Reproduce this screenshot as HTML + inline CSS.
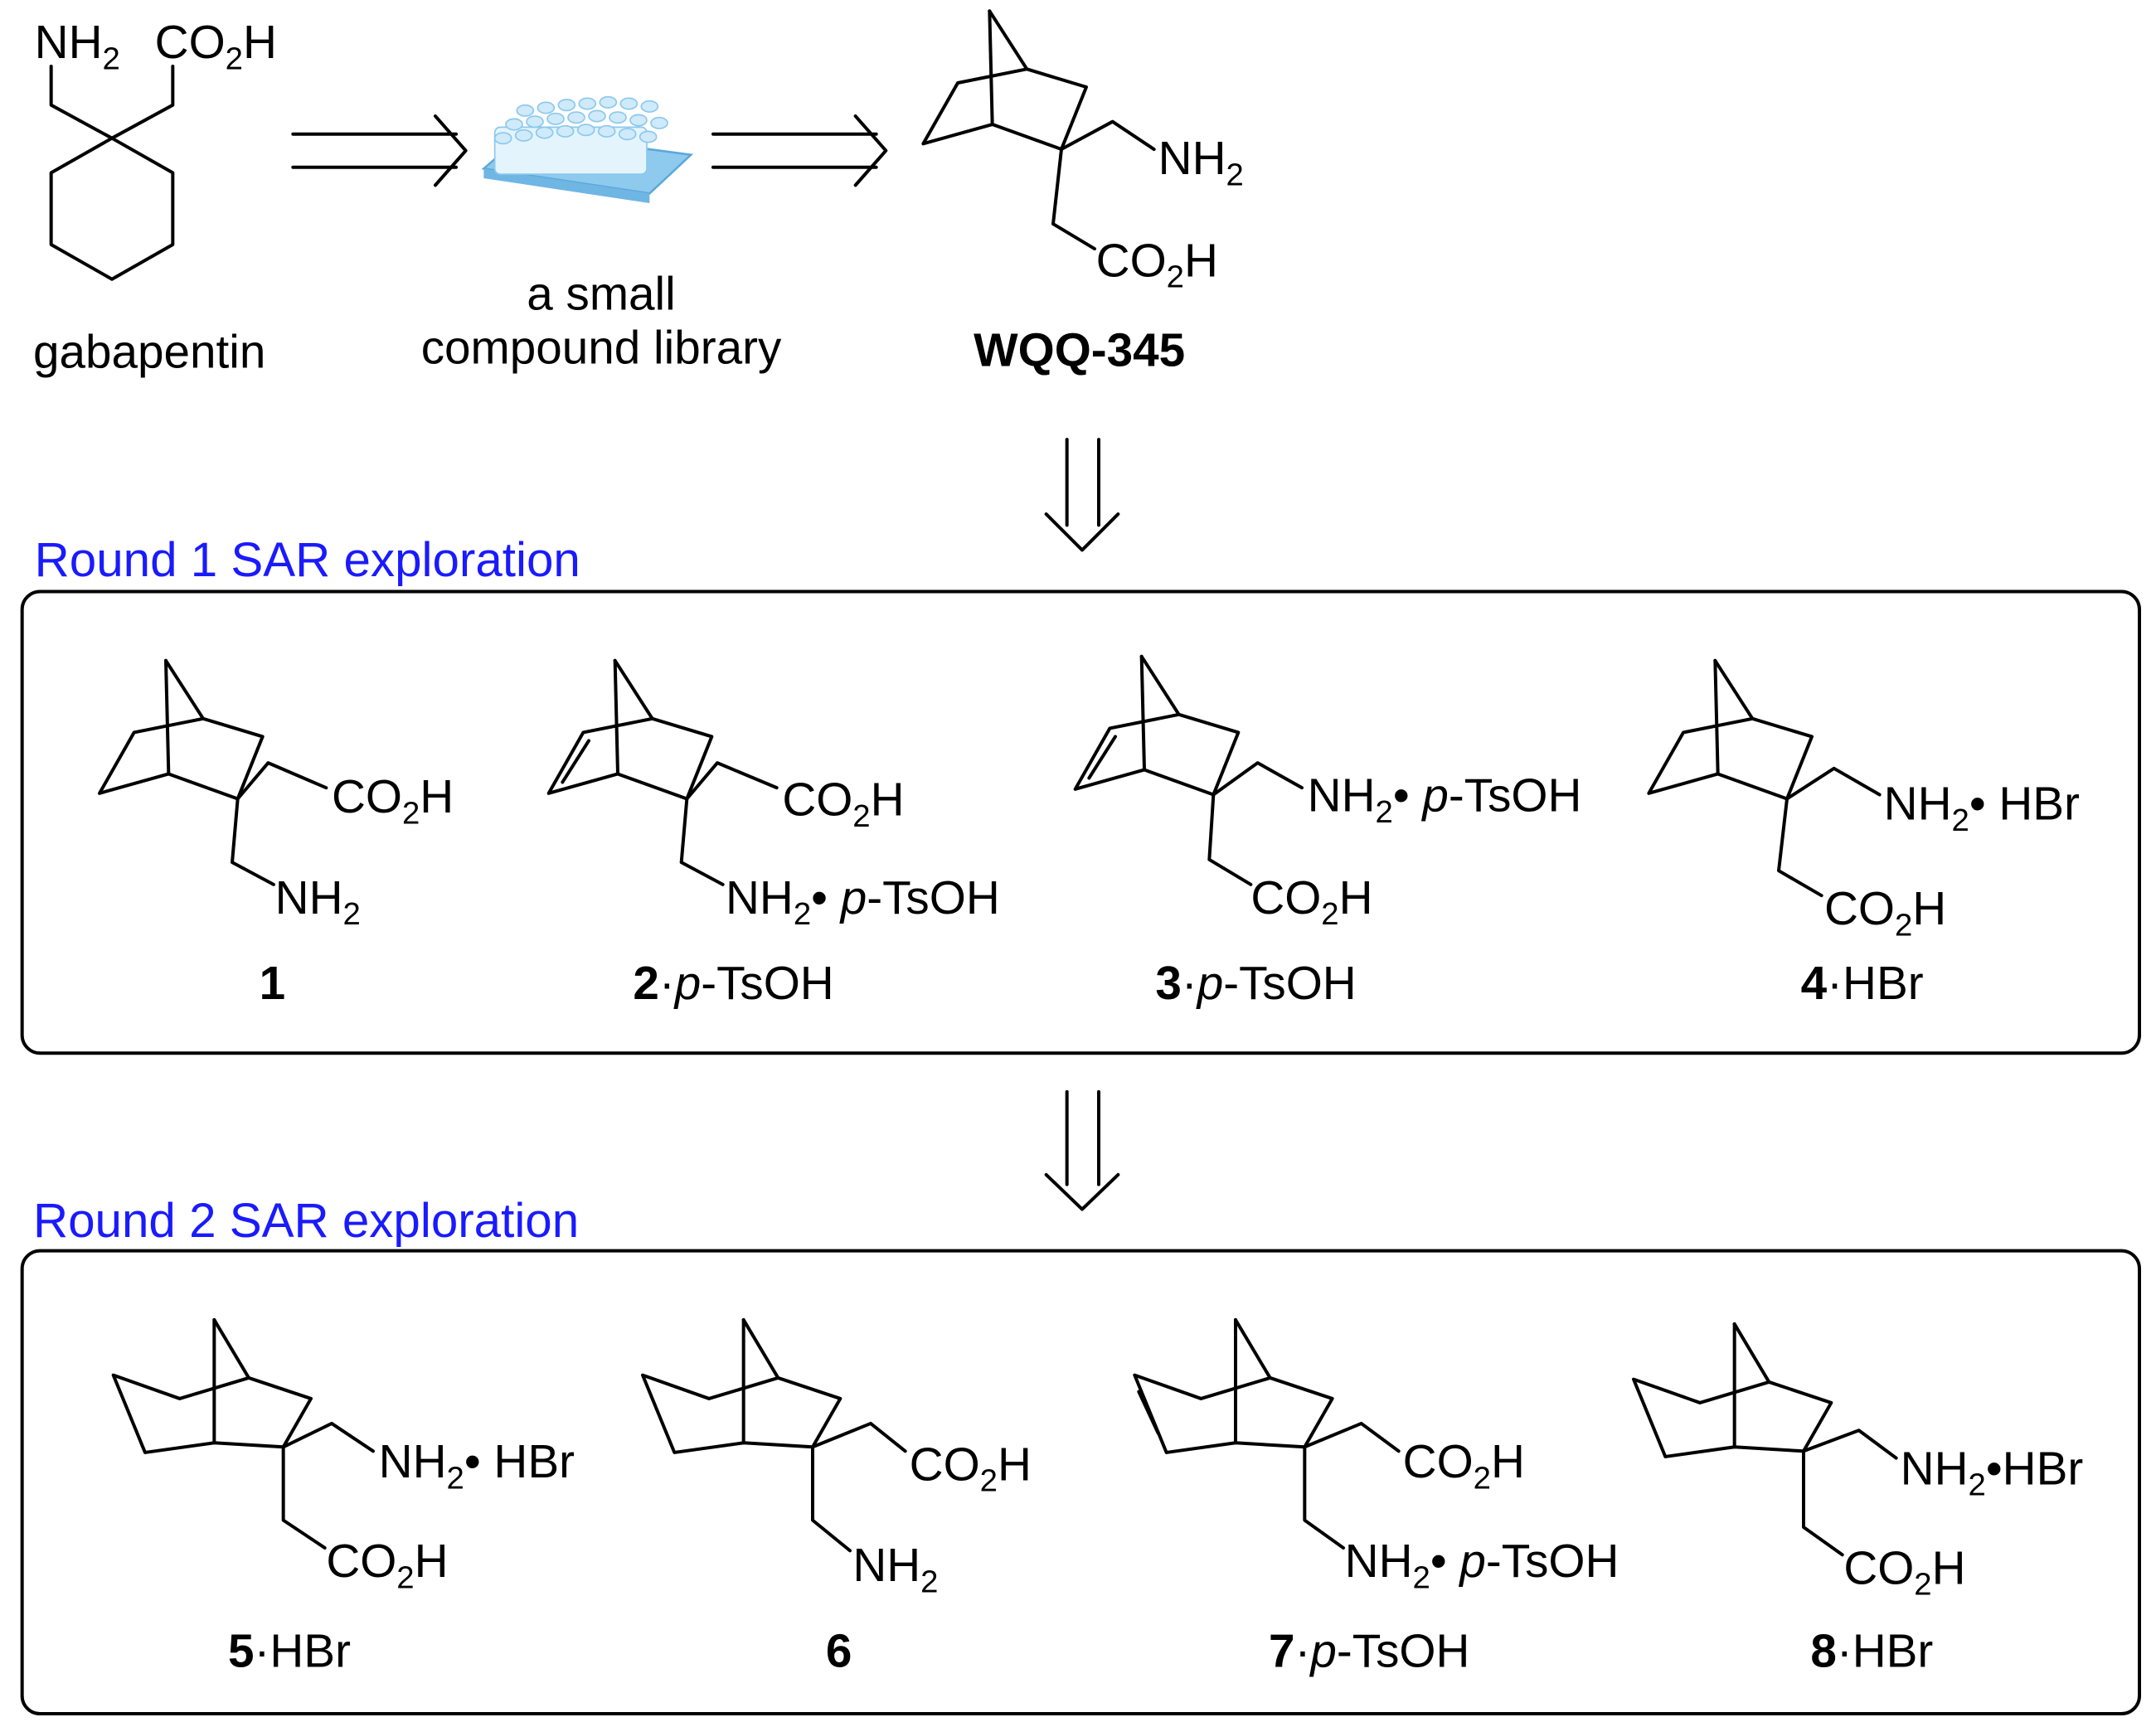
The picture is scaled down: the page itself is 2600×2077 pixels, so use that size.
<!DOCTYPE html>
<html><head><meta charset="utf-8"><style>html,body{margin:0;padding:0;background:#fff}svg{display:block}text{font-family:"Liberation Sans",Arial,sans-serif;fill:#000}</style></head>
<body>
<svg width="2600" height="2077" viewBox="0 0 1560 1246" preserveAspectRatio="none" xmlns="http://www.w3.org/2000/svg">
<g stroke="#000" stroke-width="2.4" fill="none" stroke-linecap="round" stroke-linejoin="round">
<polygon points="81,100 125,125 125,177 81,202 37,177 37,125"/>
<polyline points="81,100 37,76 37,48"/>
<polyline points="81,100 125,76 125,48"/>
<line x1="212" y1="97" x2="330" y2="97"/><line x1="212" y1="121" x2="330" y2="121"/>
<polyline points="315,84 337,109 315,134"/>
<line x1="516" y1="97" x2="634" y2="97"/><line x1="516" y1="121" x2="634" y2="121"/>
<polyline points="619,84 641,109 619,134"/>
<line x1="772" y1="318" x2="772" y2="380"/><line x1="795" y1="318" x2="795" y2="380"/>
<polyline points="757,372 783,398 809,372"/>
<line x1="772" y1="790" x2="772" y2="857"/><line x1="795" y1="790" x2="795" y2="857"/>
<polyline points="757,850 783,875 809,850"/>
<rect x="16" y="428" width="1532" height="334" rx="13"/>
<rect x="16" y="905" width="1532" height="335" rx="13"/>
</g>
<g>
<polygon points="350,122 470,140 500,112 380,96" fill="#8ec9ee" stroke="#5aa8d8" stroke-width="1.5"/>
<polygon points="350,122 470,140 470,147 350,129" fill="#6fb6e4"/>
<rect x="358" y="92" width="110" height="34" rx="4" fill="#e4f4fd" stroke="#8cc8ec" stroke-width="1"/>
<g fill="#cfeafb" stroke="#8cc8ec" stroke-width="1">
<ellipse cx="380" cy="80" rx="6" ry="4"/><ellipse cx="395" cy="78" rx="6" ry="4"/><ellipse cx="410" cy="76" rx="6" ry="4"/><ellipse cx="425" cy="75" rx="6" ry="4"/><ellipse cx="440" cy="74" rx="6" ry="4"/><ellipse cx="455" cy="75" rx="6" ry="4"/><ellipse cx="470" cy="77" rx="6" ry="4"/>
<ellipse cx="372" cy="90" rx="6" ry="4"/><ellipse cx="387" cy="88" rx="6" ry="4"/><ellipse cx="402" cy="86" rx="6" ry="4"/><ellipse cx="417" cy="85" rx="6" ry="4"/><ellipse cx="432" cy="84" rx="6" ry="4"/><ellipse cx="447" cy="85" rx="6" ry="4"/><ellipse cx="462" cy="87" rx="6" ry="4"/><ellipse cx="477" cy="89" rx="6" ry="4"/>
<ellipse cx="364" cy="100" rx="6" ry="4"/><ellipse cx="379" cy="98" rx="6" ry="4"/><ellipse cx="394" cy="96" rx="6" ry="4"/><ellipse cx="409" cy="95" rx="6" ry="4"/><ellipse cx="424" cy="94" rx="6" ry="4"/><ellipse cx="439" cy="95" rx="6" ry="4"/><ellipse cx="454" cy="97" rx="6" ry="4"/><ellipse cx="469" cy="99" rx="6" ry="4"/>
</g>
</g>
<defs>
<g id="nb" stroke="#000" stroke-width="2.4" fill="none" stroke-linecap="round" stroke-linejoin="round">
<polyline points="-52,-100 -25,-58 18,-45 0,0 -50,-18 -100,-4 -75,-48 -25,-58"/>
<line x1="-52" y1="-100" x2="-50" y2="-18"/>
</g>
<g id="nbe" stroke="#000" stroke-width="2.4" fill="none" stroke-linecap="round" stroke-linejoin="round">
<polyline points="-52,-100 -25,-58 18,-45 0,0 -50,-18 -100,-4 -75,-48 -25,-58"/>
<line x1="-52" y1="-100" x2="-50" y2="-18"/>
<line x1="-90" y1="-12" x2="-71" y2="-42"/>
</g>
<g id="bo" stroke="#000" stroke-width="2.4" fill="none" stroke-linecap="round" stroke-linejoin="round">
<polyline points="-50,-92 -25,-50 20,-35 0,0 -50,-3 -100,4 -123,-52 -75,-35 -25,-50"/>
<line x1="-50" y1="-92" x2="-50" y2="-3"/>
</g>
<g id="boe" stroke="#000" stroke-width="2.4" fill="none" stroke-linecap="round" stroke-linejoin="round">
<polyline points="-50,-92 -25,-50 20,-35 0,0 -50,-3 -100,4 -123,-52 -75,-35 -25,-50"/>
<line x1="-50" y1="-92" x2="-50" y2="-3"/>
<line x1="-106" y1="-10" x2="-120" y2="-40"/>
</g>
</defs>
<g stroke="#000" stroke-width="2.4" fill="none" stroke-linecap="round" stroke-linejoin="round">
<polyline points="768,108 805,88 835,108"/><polyline points="768,108 762,162 792,180"/>
<polyline points="172,578 194,552 236,570"/><polyline points="172,578 168,624 198,640"/>
<polyline points="497,578 519,552 562,570"/><polyline points="497,578 493,624 523,640"/>
<polyline points="878,575 910,552 942,570"/><polyline points="878,575 875,622 905,640"/>
<polyline points="1293,578 1327,556 1360,575"/><polyline points="1293,578 1287,630 1318,648"/>
<polyline points="205,1047 240,1030 270,1050"/><polyline points="205,1047 205,1100 235,1120"/>
<polyline points="588,1047 630,1030 655,1050"/><polyline points="588,1047 588,1100 615,1122"/>
<polyline points="944,1047 985,1030 1012,1050"/><polyline points="944,1047 944,1100 972,1120"/>
<polyline points="1305,1050 1345,1035 1372,1055"/><polyline points="1305,1050 1305,1105 1333,1125"/>
</g>
<use href="#nb" x="768" y="108"/>
<use href="#nb" x="172" y="578"/>
<use href="#nbe" x="497" y="578"/>
<use href="#nbe" x="878" y="575"/>
<use href="#nb" x="1293" y="578"/>
<use href="#bo" x="205" y="1047"/>
<use href="#bo" x="588" y="1047"/>
<use href="#boe" x="944" y="1047"/>
<use href="#bo" x="1305" y="1050"/>
<g font-size="34">
<text x="25" y="42">NH<tspan font-size="23" dy="8">2</tspan></text>
<text x="112" y="42">CO<tspan font-size="23" dy="8">2</tspan><tspan dy="-8">H</tspan></text>
<text x="24" y="266">gabapentin</text>
<text x="435" y="224" text-anchor="middle">a small</text>
<text x="435" y="263" text-anchor="middle">compound library</text>
<text x="838" y="126">NH<tspan font-size="23" dy="8">2</tspan></text>
<text x="793" y="200">CO<tspan font-size="23" dy="8">2</tspan><tspan dy="-8">H</tspan></text>
<text x="781" y="265" text-anchor="middle" font-weight="bold">WQQ-345</text>
<text x="25" y="417" style="fill:#1a1aff" font-size="35">Round 1 SAR exploration</text>
<text x="24" y="895" style="fill:#1a1aff" font-size="35">Round 2 SAR exploration</text>
<text x="240" y="588">CO<tspan font-size="23" dy="8">2</tspan><tspan dy="-8">H</tspan></text>
<text x="199" y="661">NH<tspan font-size="23" dy="8">2</tspan></text>
<text x="197" y="723" text-anchor="middle" font-weight="bold">1</text>
<text x="566" y="590">CO<tspan font-size="23" dy="8">2</tspan><tspan dy="-8">H</tspan></text>
<text x="525" y="661">NH<tspan font-size="23" dy="8">2</tspan><tspan dy="-8">• </tspan><tspan font-style="italic">p</tspan>-TsOH</text>
<text x="458" y="723"><tspan font-weight="bold">2</tspan>·<tspan font-style="italic">p</tspan>-TsOH</text>
<text x="946" y="587">NH<tspan font-size="23" dy="8">2</tspan><tspan dy="-8">• </tspan><tspan font-style="italic">p</tspan>-TsOH</text>
<text x="905" y="661">CO<tspan font-size="23" dy="8">2</tspan><tspan dy="-8">H</tspan></text>
<text x="836" y="723"><tspan font-weight="bold">3</tspan>·<tspan font-style="italic">p</tspan>-TsOH</text>
<text x="1363" y="593">NH<tspan font-size="23" dy="8">2</tspan><tspan dy="-8">• HBr</tspan></text>
<text x="1320" y="669">CO<tspan font-size="23" dy="8">2</tspan><tspan dy="-8">H</tspan></text>
<text x="1303" y="723"><tspan font-weight="bold">4</tspan>·HBr</text>
<text x="274" y="1069">NH<tspan font-size="23" dy="8">2</tspan><tspan dy="-8">• HBr</tspan></text>
<text x="236" y="1141">CO<tspan font-size="23" dy="8">2</tspan><tspan dy="-8">H</tspan></text>
<text x="165" y="1206"><tspan font-weight="bold">5</tspan>·HBr</text>
<text x="658" y="1071">CO<tspan font-size="23" dy="8">2</tspan><tspan dy="-8">H</tspan></text>
<text x="617" y="1144">NH<tspan font-size="23" dy="8">2</tspan></text>
<text x="607" y="1206" text-anchor="middle" font-weight="bold">6</text>
<text x="1015" y="1069">CO<tspan font-size="23" dy="8">2</tspan><tspan dy="-8">H</tspan></text>
<text x="973" y="1141">NH<tspan font-size="23" dy="8">2</tspan><tspan dy="-8">• </tspan><tspan font-style="italic">p</tspan>-TsOH</text>
<text x="918" y="1206"><tspan font-weight="bold">7</tspan>·<tspan font-style="italic">p</tspan>-TsOH</text>
<text x="1375" y="1074">NH<tspan font-size="23" dy="8">2</tspan><tspan dy="-8">•HBr</tspan></text>
<text x="1334" y="1146">CO<tspan font-size="23" dy="8">2</tspan><tspan dy="-8">H</tspan></text>
<text x="1310" y="1206"><tspan font-weight="bold">8</tspan>·HBr</text>
</g>
</svg>
</body></html>
